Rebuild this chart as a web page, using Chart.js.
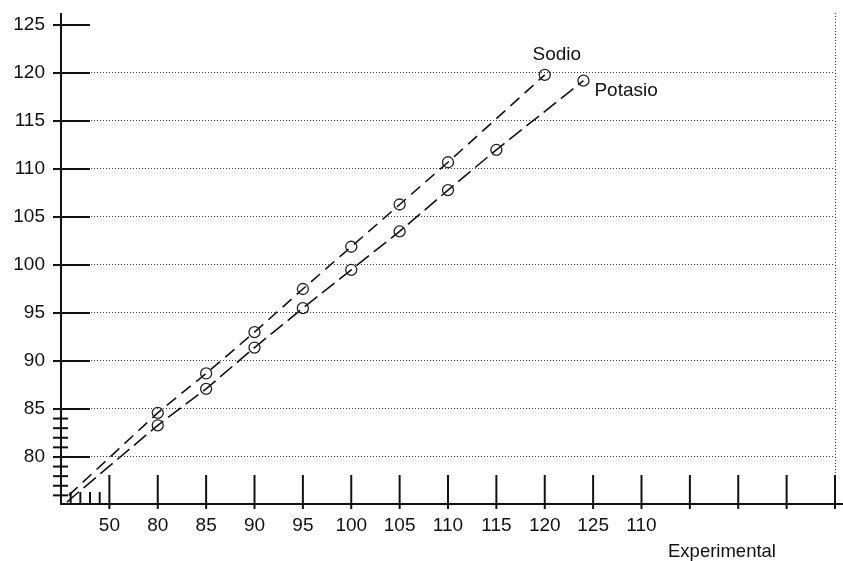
<!DOCTYPE html>
<html>
<head>
<meta charset="utf-8">
<script src="https://cdn.jsdelivr.net/npm/chart.js@4.4.1/dist/chart.umd.min.js"></script>
<style>
  body { margin: 0; background: #fff; }
  #wrap { width: 843px; height: 561px; }
</style>
</head>
<body>
<div id="wrap"><canvas id="plot"></canvas></div>
<script>
// x axis: experimental values, tick labels as printed on the original
var xTicks = [75, 80, 85, 90, 95, 100, 105, 110, 115, 120, 125, 130, 135, 140, 145, 150];
var xTickLabels = ['50', '80', '85', '90', '95', '100', '105', '110', '115', '120', '125', '110', '', '', '', ''];
var xMinor = [71, 72, 73, 74];
var yTicks = [80, 85, 90, 95, 100, 105, 110, 115, 120, 125];
var yMinor = [76, 77, 78, 79, 81, 82, 83, 84];

// first point of each series is the line start near the origin (no marker)
var sodioX = [70.8, 80, 85, 90, 95, 100, 105, 110, 120];
var sodioY = [76.0, 84.6, 88.7, 93.0, 97.5, 101.9, 106.3, 110.7, 119.8];
var potasioX = [70.6, 80, 85, 90, 95, 100, 105, 110, 115, 124];
var potasioY = [75.3, 83.3, 87.1, 91.4, 95.5, 99.5, 103.5, 107.8, 112.0, 119.2];

function toPoints(xs, ys) {
	return xs.map(function(v, i) { return {x: v, y: ys[i]}; });
}
function radii(xs) {
	return xs.map(function(v, i) { return i == 0 ? 0 : 5.5; });
}
function noPad(s) {
	s.paddingTop = 0; s.paddingBottom = 0; s.paddingLeft = 0; s.paddingRight = 0;
}

var font = '"Liberation Sans", Arial, sans-serif';

var decor = {
	id: 'decor',
	afterDraw: function(chart) {
		var ctx = chart.ctx, a = chart.chartArea, x = chart.scales.x, y = chart.scales.y;
		function seg(x1, y1, x2, y2) {
			ctx.beginPath(); ctx.moveTo(x1, y1); ctx.lineTo(x2, y2); ctx.stroke();
		}
		ctx.save();
		ctx.strokeStyle = '#111';
		ctx.lineWidth = 2;
		seg(a.left, a.top, a.left, a.bottom + 1);
		seg(a.left - 1, a.bottom, chart.width, a.bottom);
		yTicks.forEach(function(v) {
			var py = y.getPixelForValue(v);
			seg(a.left - 8, py, a.left + 29, py);
		});
		yMinor.forEach(function(v) {
			var py = y.getPixelForValue(v);
			seg(a.left - 8, py, a.left + 7, py);
		});
		xTicks.forEach(function(v) {
			var px = x.getPixelForValue(v);
			seg(px, a.bottom - 29, px, a.bottom + 5);
		});
		xMinor.forEach(function(v) {
			var px = x.getPixelForValue(v);
			seg(px, a.bottom - 12, px, a.bottom + 1);
		});

		ctx.fillStyle = '#111';
		ctx.font = '19px ' + font;
		var sx = x.getPixelForValue(sodioX[sodioX.length - 1]);
		var sy = y.getPixelForValue(sodioY[sodioY.length - 1]);
		ctx.textAlign = 'center'; ctx.textBaseline = 'bottom';
		ctx.fillText('Sodio', sx + 12, sy - 11);
		var kx = x.getPixelForValue(potasioX[potasioX.length - 1]);
		var ky = y.getPixelForValue(potasioY[potasioY.length - 1]);
		ctx.textAlign = 'left'; ctx.textBaseline = 'middle';
		ctx.fillText('Potasio', kx + 11, ky + 10);
		ctx.font = '18.5px ' + font;
		ctx.textAlign = 'center'; ctx.textBaseline = 'middle';
		ctx.fillText('Experimental', 722, 552);
		ctx.restore();
	}
};

var plot = new Chart(document.getElementById('plot'), {
	type: 'scatter',
	data: {
		datasets: [{
			label: 'Sodio',
			data: toPoints(sodioX, sodioY),
			showLine: true,
			borderColor: '#111',
			borderWidth: 1.6,
			borderDash: [12, 7],
			pointRadius: radii(sodioX),
			pointBorderColor: '#222',
			pointBorderWidth: 1.3,
			pointBackgroundColor: 'rgba(0,0,0,0)'
		}, {
			label: 'Potasio',
			data: toPoints(potasioX, potasioY),
			showLine: true,
			borderColor: '#111',
			borderWidth: 1.6,
			borderDash: [16, 6],
			pointRadius: radii(potasioX),
			pointBorderColor: '#222',
			pointBorderWidth: 1.3,
			pointBackgroundColor: 'rgba(0,0,0,0)'
		}]
	},
	options: {
		responsive: true,
		maintainAspectRatio: false,
		animation: false,
		layout: { padding: { top: 13, right: 8, left: 0, bottom: 0 } },
		plugins: { legend: { display: false }, tooltip: { enabled: false } },
		scales: {
			x: {
				type: 'linear',
				min: 70,
				max: 150,
				afterBuildTicks: function(s) { s.ticks = xTicks.map(function(v) { return {value: v}; }); },
				afterFit: function(s) { s.height = 57; noPad(s); },
				ticks: {
					autoSkip: false,
					maxRotation: 0,
					padding: 10,
					color: '#111',
					font: { family: font, size: 19 },
					callback: function(v) { return xTickLabels[xTicks.indexOf(v)]; }
				},
				grid: {
					drawTicks: false,
					lineWidth: 1,
					color: function(c) { return c.tick && c.tick.value == 150 ? '#333' : 'rgba(0,0,0,0)'; }
				},
				border: { display: false, dash: [1, 2] }
			},
			y: {
				min: 75.1,
				max: 126.25,
				afterBuildTicks: function(s) { s.ticks = yTicks.map(function(v) { return {value: v}; }); },
				afterFit: function(s) { s.width = 61; noPad(s); },
				ticks: {
					padding: 16,
					color: '#111',
					font: { family: font, size: 19 }
				},
				grid: {
					drawTicks: false,
					lineWidth: 1,
					color: function(c) { return c.tick && c.tick.value == 125 ? 'rgba(0,0,0,0)' : '#333'; }
				},
				border: { display: false, dash: [1, 2] }
			}
		}
	},
	plugins: [decor]
});
</script>
</body>
</html>
